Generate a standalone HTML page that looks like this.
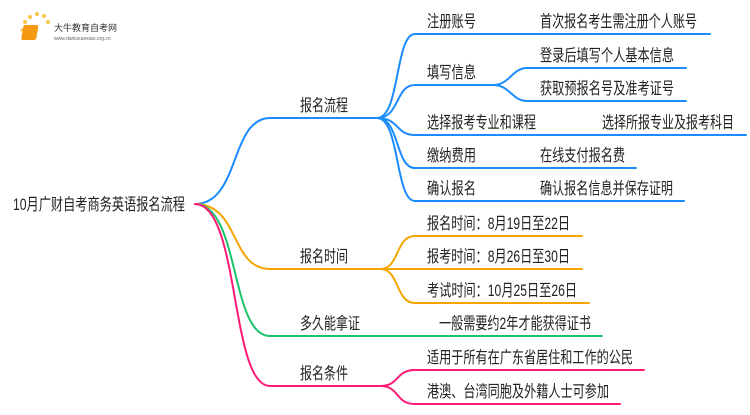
<!DOCTYPE html>
<html><head><meta charset="utf-8"><style>
body{margin:0;background:#fff;}
svg text{font-family:"Liberation Sans","Noto Sans CJK SC",sans-serif;font-size:16.5px;fill:#222;}
</style></head><body>
<svg width="750" height="410" viewBox="0 0 750 410" xmlns="http://www.w3.org/2000/svg">
<g fill="none" stroke-width="2" stroke-linecap="round">
<path d="M195 204 C240 204 230 118 270 118 L377 118" stroke="#1a8cff"/>
<path d="M377 118 C400 118 395 34 415 34 L710 34" stroke="#1a8cff"/>
<path d="M377 118 C400 118 395 85 415 85 L493 85" stroke="#1a8cff"/>
<path d="M493 85 C510 85 512 68 527 68 L686 68" stroke="#1a8cff"/>
<path d="M493 85 C510 85 512 101 527 101 L686 101" stroke="#1a8cff"/>
<path d="M377 118 C400 118 395 135 415 135 L746 135" stroke="#1a8cff"/>
<path d="M377 118 C400 118 395 168 415 168 L636 168" stroke="#1a8cff"/>
<path d="M377 118 C400 118 395 201 415 201 L684 201" stroke="#1a8cff"/>
<path d="M195 204 C240 204 230 269 270 269 L380 269" stroke="#f5a500"/>
<path d="M380 269 C400 269 395 236 415 236 L582 236" stroke="#f5a500"/>
<path d="M380 269 L582 269" stroke="#f5a500"/>
<path d="M380 269 C400 269 395 303 415 303 L589 303" stroke="#f5a500"/>
<path d="M195 204 C240 204 230 336 270 336 L602 336" stroke="#1cc26a"/>
<path d="M195 204 C240 204 230 386 270 386 L380 386" stroke="#ff1a75"/>
<path d="M380 386 C400 386 395 370 415 370 L644 370" stroke="#ff1a75"/>
<path d="M380 386 C400 386 395 404 415 404 L620 404" stroke="#ff1a75"/>
</g>
<g>
<circle cx="25" cy="22" r="2" fill="#f8c74a"/><circle cx="30" cy="17" r="2" fill="#f8c74a"/><circle cx="37" cy="14" r="2" fill="#f8c74a"/><circle cx="44" cy="16" r="2" fill="#f8c74a"/><circle cx="48" cy="22" r="2" fill="#f8c74a"/><circle cx="22" cy="30" r="1.5" fill="#f8c74a"/>
<rect x="28" y="25" width="15" height="15" rx="2" fill="#f39a12" transform="skewX(-10)"/>
<text x="54" y="31" style="font-size:9px;fill:#333">大牛教育自考网</text>
<text x="54" y="40" style="font-size:5px;fill:#666">www.daniuxuexiao.org.cn</text>
</g>
<text x="13" y="210" textLength="172" lengthAdjust="spacingAndGlyphs">10月广财自考商务英语报名流程</text>
<text x="300" y="111" textLength="48" lengthAdjust="spacingAndGlyphs">报名流程</text>
<text x="300" y="262" textLength="48" lengthAdjust="spacingAndGlyphs">报名时间</text>
<text x="300" y="329" textLength="60" lengthAdjust="spacingAndGlyphs">多久能拿证</text>
<text x="300" y="379" textLength="48" lengthAdjust="spacingAndGlyphs">报名条件</text>
<text x="427" y="27" textLength="49" lengthAdjust="spacingAndGlyphs">注册账号</text>
<text x="540" y="27" textLength="157" lengthAdjust="spacingAndGlyphs">首次报名考生需注册个人账号</text>
<text x="427" y="78" textLength="49" lengthAdjust="spacingAndGlyphs">填写信息</text>
<text x="540" y="61" textLength="134" lengthAdjust="spacingAndGlyphs">登录后填写个人基本信息</text>
<text x="540" y="94" textLength="134" lengthAdjust="spacingAndGlyphs">获取预报名号及准考证号</text>
<text x="427" y="128" textLength="109" lengthAdjust="spacingAndGlyphs">选择报考专业和课程</text>
<text x="602" y="128" textLength="132" lengthAdjust="spacingAndGlyphs">选择所报专业及报考科目</text>
<text x="427" y="161" textLength="49" lengthAdjust="spacingAndGlyphs">缴纳费用</text>
<text x="540" y="161" textLength="85" lengthAdjust="spacingAndGlyphs">在线支付报名费</text>
<text x="427" y="194" textLength="49" lengthAdjust="spacingAndGlyphs">确认报名</text>
<text x="540" y="194" textLength="133" lengthAdjust="spacingAndGlyphs">确认报名信息并保存证明</text>
<text x="427" y="229" textLength="143" lengthAdjust="spacingAndGlyphs">报名时间：8月19日至22日</text>
<text x="427" y="262" textLength="143" lengthAdjust="spacingAndGlyphs">报考时间：8月26日至30日</text>
<text x="427" y="296" textLength="150" lengthAdjust="spacingAndGlyphs">考试时间：10月25日至26日</text>
<text x="439" y="329" textLength="152" lengthAdjust="spacingAndGlyphs">一般需要约2年才能获得证书</text>
<text x="427" y="363" textLength="206" lengthAdjust="spacingAndGlyphs">适用于所有在广东省居住和工作的公民</text>
<text x="427" y="397" textLength="182" lengthAdjust="spacingAndGlyphs">港澳、台湾同胞及外籍人士可参加</text>
</svg>
</body></html>
